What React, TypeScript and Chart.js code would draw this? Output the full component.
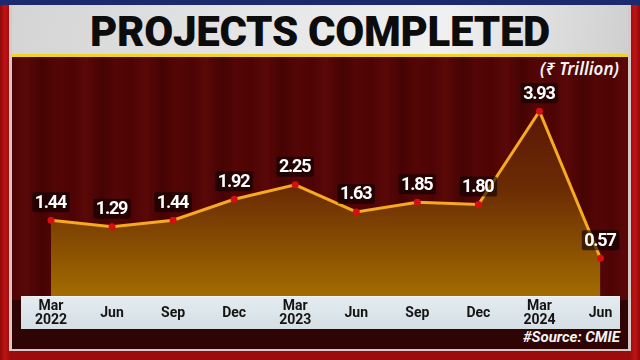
import React, { useEffect, useRef } from "react";
import { Chart, registerables } from "chart.js";
Chart.register(...registerables);

const categories: (string | string[])[] = [
  ["Mar", "2022"], "Jun", "Sep", "Dec", ["Mar", "2023"], "Jun", "Sep", "Dec", ["Mar", "2024"], "Jun",
];
const values = [1.44, 1.29, 1.44, 1.92, 2.25, 1.63, 1.85, 1.8, 3.93, 0.57];
const valueLabels = ["1.44", "1.29", "1.44", "1.92", "2.25", "1.63", "1.85", "1.80", "3.93", "0.57"];
const titleText = "PROJECTS COMPLETED";
const unitText = "(₹ Trillion)";
const sourceText = "#Source: CMIE";

const labelPlugin = {
  id: "valueLabels",
  afterDatasetsDraw(chart: any) {
    const ctx = chart.ctx as CanvasRenderingContext2D;
    const meta = chart.getDatasetMeta(0);
    ctx.save();
    ctx.font = "bold 18px Roboto, sans-serif";
    (ctx as any).letterSpacing = "-1.2px";
    ctx.textAlign = "center";
    ctx.textBaseline = "middle";
    meta.data.forEach((pt: any, i: number) => {
      const text = valueLabels[i];
      const w = ctx.measureText(text).width;
      const cx = pt.x;
      const cy = pt.y - 18;
      ctx.fillStyle = "rgba(10,0,0,0.6)";
      ctx.beginPath();
      (ctx as any).roundRect(cx - w / 2 - 3, cy - 10, w + 6, 20, 2);
      ctx.fill();
      ctx.fillStyle = "#ffffff";
      ctx.fillText(text, cx - 0.6, cy + 1);
    });
    ctx.restore();
  },
};

export default function App() {
  const ref = useRef<HTMLCanvasElement>(null);
  useEffect(() => {
    if (!ref.current) return;
    const chart = new Chart(ref.current, {
      type: "line",
      data: {
        labels: categories,
        datasets: [
          {
            data: values,
            borderColor: "#f7a91f",
            borderWidth: 3,
            pointRadius: 3.5,
            pointBackgroundColor: "#d60f12",
            pointBorderWidth: 0,
            tension: 0,
            fill: "start",
            backgroundColor: (c: any) => {
              const area = c.chart.chartArea;
              if (!area) return "rgba(160,100,0,0.8)";
              const g = c.chart.ctx.createLinearGradient(0, area.top, 0, area.bottom);
              g.addColorStop(0, "#500808");
              g.addColorStop(0.55, "#6c2c04");
              g.addColorStop(1, "#a26c00");
              return g;
            },
          },
        ],
      },
      options: {
        responsive: false,
        animation: false,
        layout: { padding: { left: 51, right: 39.5, top: 60, bottom: 11 } },
        plugins: { legend: { display: false }, tooltip: { enabled: false } },
        scales: {
          x: {
            offset: false,
            grid: { display: false, drawTicks: false },
            border: { display: false },
            afterFit: (s: any) => {
              s.height = 53;
            },
            ticks: {
              autoSkip: false,
              maxRotation: 0,
              minRotation: 0,
              padding: 10,
              crossAlign: "center",
              color: "#141414",
              font: { family: "Roboto", weight: "bold", size: 14, lineHeight: 1.0 },
            },
          },
          y: { display: false, min: -0.29, max: 5.1 },
        },
      },
      plugins: [labelPlugin],
    } as any);
    return () => chart.destroy();
  }, []);

  const abs = (s: React.CSSProperties): React.CSSProperties => ({ position: "absolute", ...s });

  return (
    <div style={{ position: "fixed", left: 0, top: 0, width: 640, height: 360, overflow: "hidden", background: "#a50d0d" }}>
      <div style={abs({ left: 0, top: 0, width: 640, height: 360, background: "linear-gradient(90deg,#8e0a0a 0px,#c01414 5px,#9c0c0c 10px,#9c0c0c 630px,#c01414 635px,#8e0a0a 640px)" })} />
      <div style={abs({ left: 0, top: 0, width: 640, height: 5, background: "#1b2a6e" })} />
      <div style={abs({ left: 9, top: 5, width: 622, height: 346, background: "#d8c8c8" })} />
      <div style={abs({ left: 12, top: 55, width: 616, height: 294, background: "repeating-linear-gradient(90deg,#4e0404 0px,#5a0808 14px,#460303 30px,#540606 44px,#4e0404 60px)" })} />
      <div style={abs({ left: 12, top: 300, width: 616, height: 49, background: "#2e0404" })} />
      <div style={abs({ left: 12, top: 5, width: 616, height: 50, background: "linear-gradient(100deg,#d4d4d4 0%,#e6e6e6 40%,#f0f0f0 70%,#cfcfcf 100%)" })} />
      <div style={abs({ left: 12, top: 54, width: 616, height: 3, background: "#f2d21e" })} />
      <div style={abs({ left: 12, top: 6, width: 616, height: 50, display: "flex", alignItems: "center", justifyContent: "center", fontFamily: "Roboto, sans-serif", fontWeight: 900, fontSize: 42, color: "#0c0c0c", letterSpacing: -0.3 })}>
        {titleText}
      </div>
      <div style={abs({ left: 21, top: 296, width: 599, height: 33, background: "linear-gradient(180deg,#e4ecf0,#d4dee4)", borderTop: "1px solid #f4f4f4", boxSizing: "border-box" })} />
      <div style={abs({ right: 21, top: 57, fontFamily: '"Noto Sans", Roboto, sans-serif', fontStyle: "italic", fontWeight: 600, fontSize: 17, color: "#f4f4f4" })}>
        {unitText}
      </div>
      <div style={abs({ right: 20, top: 328, fontFamily: "Roboto, sans-serif", fontStyle: "italic", fontWeight: 700, fontSize: 15, color: "#f4f4f4" })}>
        {sourceText}
      </div>
      <canvas ref={ref} width={640} height={360} style={abs({ left: 0, top: 0, width: 640, height: 360 })} />
    </div>
  );
}
